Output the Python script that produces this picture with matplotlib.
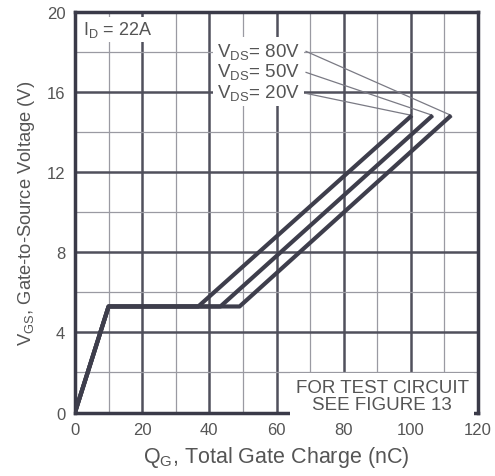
import matplotlib
matplotlib.use("Agg")
import matplotlib.pyplot as plt
from matplotlib.ticker import MultipleLocator

plt.rcParams['font.family'] = ['Liberation Sans', 'DejaVu Sans']
plt.rcParams['mathtext.fontset'] = 'custom'
plt.rcParams['mathtext.rm'] = 'Liberation Sans'
plt.rcParams['mathtext.it'] = 'Liberation Sans'

# Data (gate charge nC, gate-source voltage V)
vds_labels = ["20V", "50V", "80V"]
qg_20 = [0, 10, 36.7, 100.3]
qg_50 = [0, 10, 43.3, 106.5]
qg_80 = [0, 10, 49.0, 112.0]
vgs = [0, 5.3, 5.3, 14.85]
curves_qg = [qg_20, qg_50, qg_80]

x_ticks = [0, 20, 40, 60, 80, 100, 120]
y_ticks = [0, 4, 8, 12, 16, 20]

curve_c = '#3e3e4c'
major_c = '#50505c'
minor_c = '#9a9aa2'
text_c = '#555555'

fig = plt.figure(figsize=(4.95, 4.77), dpi=100)
ax = fig.add_axes([0.1515, 0.1331, 0.8142, 0.8389])
ax.set_xlim(0, 120)
ax.set_ylim(0, 20)
ax.set_xticks(x_ticks)
ax.set_yticks(y_ticks)
ax.xaxis.set_minor_locator(MultipleLocator(10))
ax.yaxis.set_minor_locator(MultipleLocator(2))
ax.grid(which='major', color=major_c, lw=1.8, zorder=1)
ax.grid(which='minor', color=minor_c, lw=0.9, zorder=1)
ax.set_axisbelow(True)
ax.tick_params(which='both', length=0, labelsize=12, labelcolor=text_c, pad=7)
for s in ax.spines.values():
    s.set_linewidth(2.5)
    s.set_color('#3a3a48')

for q in curves_qg:
    ax.plot(q, vgs, color=curve_c, lw=3, zorder=5, solid_capstyle='butt')

# label block with white background
lbl = "\n".join([r"$\mathregular{V_{DS}}$= " + v for v in vds_labels[::-1]])
ax.text(42.3, 17.05, lbl, fontsize=13.5, color=text_c, va='center', ha='left',
        linespacing=1.05, zorder=3,
        bbox=dict(facecolor='white', edgecolor='none', pad=3))

# leader lines: label end -> curve end
label_y = [15.95, 17.0, 18.05]
for q, ly in zip(curves_qg, label_y):
    ax.plot([68.8, q[-1]], [ly, vgs[-1]], color='#7a7a84', lw=0.9, zorder=4)

ax.text(2.5, 19.15, r"$\mathregular{I_{D}}$ = 22A", fontsize=13, color=text_c,
        va='center', ha='left', zorder=3,
        bbox=dict(facecolor='white', edgecolor='none', pad=2))

ax.text(91.5, 0.85, "FOR TEST CIRCUIT\nSEE FIGURE 13", fontsize=13.5, color=text_c,
        va='center', ha='center', linespacing=1.0, zorder=3,
        bbox=dict(facecolor='white', edgecolor='none', pad=4))

ax.set_xlabel(r"$\mathregular{Q_{G}}$, Total Gate Charge (nC)", fontsize=15.5,
              color=text_c, labelpad=5)
ax.set_ylabel(r"$\mathregular{V_{GS}}$, Gate-to-Source Voltage (V)", fontsize=13.2,
              color=text_c, labelpad=7)

fig.savefig("out.png", dpi=100, facecolor='white')
